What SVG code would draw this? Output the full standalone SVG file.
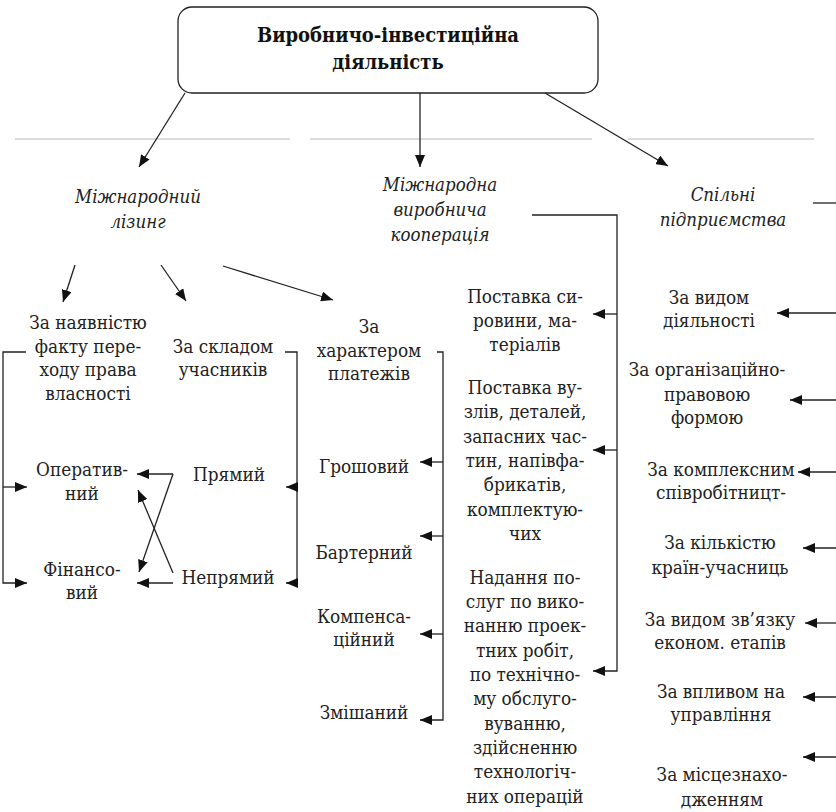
<svg xmlns="http://www.w3.org/2000/svg" width="836" height="812" viewBox="0 0 836 812">
<defs>
<marker id="ah" viewBox="0 0 12 10" refX="12" refY="5" markerWidth="12" markerHeight="10" markerUnits="userSpaceOnUse" orient="auto">
<path d="M0,0 L12,5 L0,10 Z" fill="#111"/>
</marker>
</defs>
<style>
text{font-family:'DejaVu Serif Condensed','DejaVu Serif',serif;font-stretch:condensed}
.t{font-size:18.8px;fill:#222;text-anchor:middle}
.i{font-style:italic;font-size:18.5px}
.b{font-weight:bold;font-size:20px;fill:#111}
.c{fill:none;stroke:#222;stroke-width:1.3}
.a{fill:none;stroke:#222;stroke-width:1.3;marker-end:url(#ah)}
.g{stroke:#d0d0d0;stroke-width:1.5}
</style>
<rect width="836" height="812" fill="#fff"/>
<g id="guides">
<line class="g" x1="15" y1="139" x2="290" y2="139"/>
<line class="g" x1="310" y1="139" x2="592" y2="139"/>
<line class="g" x1="628" y1="139" x2="814" y2="139"/>
</g>
<g id="root">
<rect x="178" y="7" width="420" height="86" rx="14" fill="#fff" stroke="#222" stroke-width="1.3"/>
<text class="t b" x="388" y="42">Виробничо-інвестиційна</text>
<text class="t b" x="388" y="69">діяльність</text>
</g>
<g id="leasing"><text class="t i" x="138" y="203">Міжнародний</text><text class="t i" x="138" y="228">лізинг</text></g>
<g id="coop"><text class="t i" x="440" y="191">Міжнародна</text><text class="t i" x="440" y="216">виробнича</text><text class="t i" x="440" y="241">кооперація</text></g>
<g id="jv"><text class="t i" x="723" y="201">Спільні</text><text class="t i" x="723" y="226">підприємства</text></g>
<g id="n-ownership"><text class="t" x="88" y="329">За наявністю</text><text class="t" x="88" y="353">факту пере-</text><text class="t" x="88" y="376">ходу права</text><text class="t" x="88" y="400">власності</text></g>
<g id="n-members"><text class="t" x="223" y="353">За складом</text><text class="t" x="223" y="376">учасників</text></g>
<g id="n-oper"><text class="t" x="82" y="476">Оператив-</text><text class="t" x="82" y="500">ний</text></g>
<g id="n-fin"><text class="t" x="82" y="576">Фінансо-</text><text class="t" x="82" y="599">вий</text></g>
<g id="n-direct"><text class="t" x="229" y="481">Прямий</text></g>
<g id="n-indirect"><text class="t" x="228" y="584">Непрямий</text></g>
<g id="n-payments"><text class="t" x="369" y="333">За</text><text class="t" x="369" y="357">характером</text><text class="t" x="369" y="380">платежів</text></g>
<g id="n-money"><text class="t" x="364" y="473">Грошовий</text></g>
<g id="n-barter"><text class="t" x="364" y="559">Бартерний</text></g>
<g id="n-comp"><text class="t" x="364" y="623">Компенса-</text><text class="t" x="364" y="646">ційний</text></g>
<g id="n-mixed"><text class="t" x="364" y="719">Змішаний</text></g>
<g id="n-raw"><text class="t" x="525" y="303">Поставка си-</text><text class="t" x="525" y="327">ровини, ма-</text><text class="t" x="525" y="351">теріалів</text></g>
<g id="n-parts"><text class="t" x="525" y="394">Поставка ву-</text><text class="t" x="525" y="418">злів, деталей,</text><text class="t" x="525" y="443">запасних час-</text><text class="t" x="525" y="467">тин, напівфа-</text><text class="t" x="525" y="491">брикатів,</text><text class="t" x="525" y="516">комплектую-</text><text class="t" x="525" y="540">чих</text></g>
<g id="n-services"><text class="t" x="525" y="584">Надання по-</text><text class="t" x="525" y="608">слуг по вико-</text><text class="t" x="525" y="632">нанню проек-</text><text class="t" x="525" y="657">тних робіт,</text><text class="t" x="525" y="681">по технічно-</text><text class="t" x="525" y="705">му обслуго-</text><text class="t" x="525" y="730">вуванню,</text><text class="t" x="525" y="754">здійсненню</text><text class="t" x="525" y="778">технологіч-</text><text class="t" x="525" y="803">них операцій</text></g>
<g id="n-activity"><text class="t" x="709" y="304">За видом</text><text class="t" x="709" y="327">діяльності</text></g>
<g id="n-legal"><text class="t" x="707" y="376">За організаційно-</text><text class="t" x="707" y="401">правовою</text><text class="t" x="707" y="424">формою</text></g>
<g id="n-complex"><text class="t" x="721" y="476">За комплексним</text><text class="t" x="721" y="499">співробітницт-</text></g>
<g id="n-countries"><text class="t" x="720" y="549">За кількістю</text><text class="t" x="720" y="574">країн-учасниць</text></g>
<g id="n-link"><text class="t" x="720" y="626">За видом зв’язку</text><text class="t" x="720" y="649">економ. етапів</text></g>
<g id="n-influence"><text class="t" x="721" y="698">За впливом на</text><text class="t" x="721" y="721">управління</text></g>
<g id="n-location"><text class="t" x="722" y="781">За місцезнахо-</text><text class="t" x="722" y="806">дженням</text></g>
<g id="connectors">
<line class="a" x1="185" y1="93" x2="139" y2="167"/>
<line class="a" x1="420" y1="93" x2="420" y2="167"/>
<line class="a" x1="545" y1="93" x2="668" y2="166"/>
<line class="a" x1="75" y1="265" x2="63" y2="302"/>
<line class="a" x1="161" y1="265" x2="186" y2="301"/>
<line class="a" x1="223" y1="266" x2="333" y2="300"/>
<path class="a" d="M26,352 H3 V583 H27"/>
<path class="a" d="M3,487 H27"/>
<path class="a" d="M285,352 H297 V583 H286"/>
<path class="a" d="M297,487 H286"/>
<path class="a" d="M173,474 H137"/>
<path class="a" d="M173,474 L139,572"/>
<path class="a" d="M173,583 H137"/>
<path class="a" d="M173,573 L138,490"/>
<path class="a" d="M437,352 H443 V720 H420"/>
<path class="a" d="M443,462 H420"/>
<path class="a" d="M443,536 H420"/>
<path class="a" d="M443,634 H420"/>
<path class="a" d="M532,215 H617 V671 H593"/>
<path class="a" d="M617,314 H593"/>
<path class="a" d="M617,450 H593"/>
<path class="c" d="M813,203 H836"/>
<path class="a" d="M836,313 H777"/>
<path class="a" d="M836,400 H790"/>
<path class="a" d="M836,472 H798"/>
<path class="a" d="M836,548 H803"/>
<path class="a" d="M836,623 H805"/>
<path class="a" d="M836,697 H803"/>
<path class="a" d="M836,757 H803"/>
</g>
</svg>
